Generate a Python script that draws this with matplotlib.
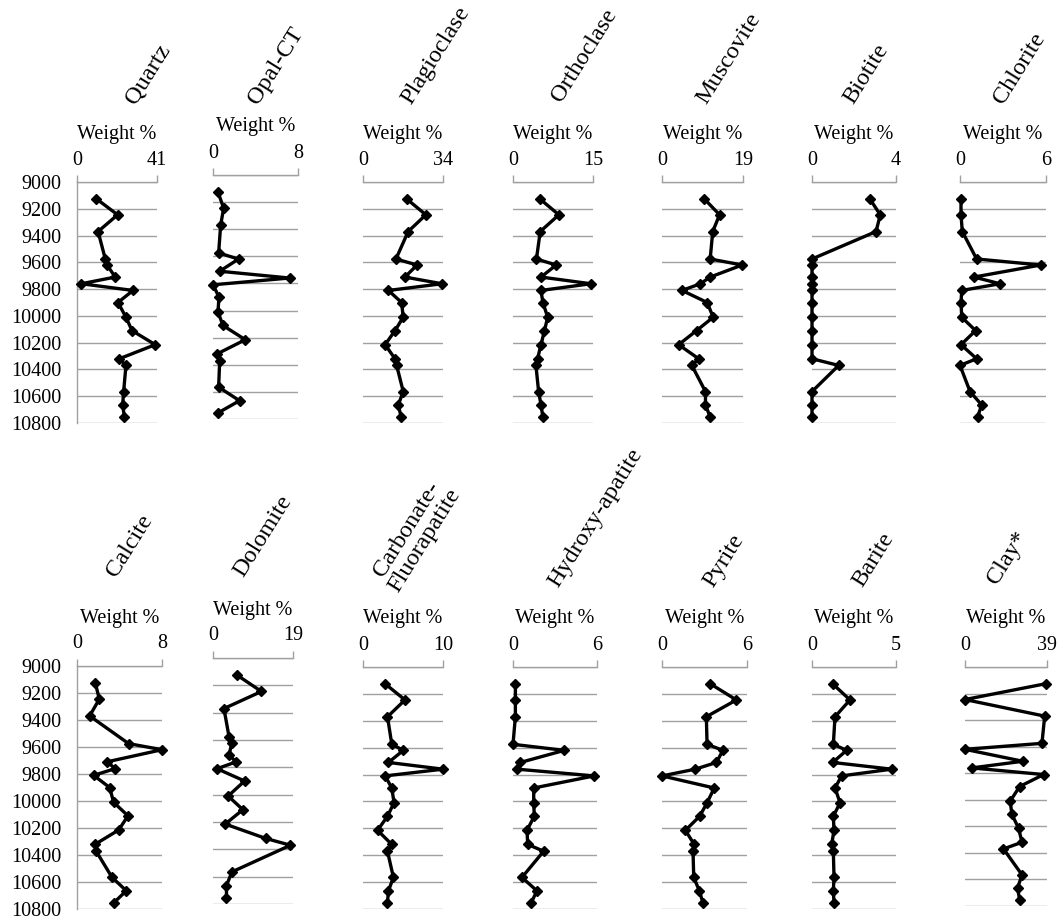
import matplotlib
matplotlib.use('Agg')
import matplotlib.pyplot as plt

plt.rcParams['font.family'] = ['Liberation Serif', 'DejaVu Serif']

# ─── data ────────────────────────────────────────────────────
DEPTH = [9125, 9245, 9370, 9575, 9620, 9710, 9760, 9810, 9900,
         10010, 10110, 10215, 10320, 10370, 10565, 10665, 10755]
DEPTH_TICKS = list(range(9000, 10801, 200))

NAMES = ['Quartz', 'Opal-CT', 'Plagioclase', 'Orthoclase', 'Muscovite', 'Biotite', 'Chlorite',
         'Calcite', 'Dolomite', 'Carbonate-\nFluorapatite', 'Hydroxy-apatite', 'Pyrite', 'Barite', 'Clay*']
XMAX = [41, 8, 34, 15, 19, 4, 6,
        8, 19, 10, 6, 6, 5, 39]

quartz = [9.9, 20.8, 10.8, 14.5, 15.4, 19.6, 2.2, 28.7, 21.0, 25.1, 28.2, 40.1, 21.7, 25.1, 23.9, 23.4, 24.3]
opal_ct = [0.47, 1.0, 0.72, 0.53, 2.4, 0.63, 7.2, 0.0, 0.56, 0.47, 0.94, 3.04, 0.38, 0.63, 0.53, 2.5, 0.47]
plagioclase = [18.5, 26.7, 19.2, 14.0, 23.0, 17.8, 33.6, 10.8, 16.4, 17.1, 13.6, 9.4, 13.6, 14.3, 17.1, 15.0, 16.2]
orthoclase = [5.0, 8.6, 5.1, 4.4, 8.1, 5.25, 14.6, 5.25, 5.6, 6.5, 5.9, 5.25, 4.6, 4.3, 4.8, 5.25, 5.6]
muscovite = [9.9, 13.5, 11.9, 11.3, 18.8, 11.3, 9.0, 4.7, 10.6, 12.0, 8.1, 3.9, 8.6, 7.0, 10.2, 10.2, 11.3]
biotite = [2.75, 3.25, 3.05, 0.0, 0.0, 0.0, 0.0, 0.0, 0.0, 0.0, 0.0, 0.0, 0.0, 1.27, 0.0, 0.0, 0.0]
chlorite = [0.07, 0.07, 0.16, 1.16, 5.63, 0.98, 2.79, 0.12, 0.07, 0.12, 1.09, 0.07, 1.16, 0.0, 0.7, 1.51, 1.23]
calcite = [1.72, 2.1, 1.19, 4.86, 8.0, 2.82, 3.6, 1.57, 3.07, 3.45, 4.8, 3.92, 1.72, 1.79, 3.29, 4.64, 3.45]
dolomite = [5.7, 11.5, 2.6, 3.8, 4.5, 3.8, 5.5, 0.95, 7.5, 3.6, 7.1, 2.9, 12.5, 18.4, 4.5, 3.2, 3.2]
carb_fluorapatite = [2.77, 5.25, 3.06, 3.6, 5.04, 3.18, 10.0, 2.77, 3.6, 3.88, 3.06, 1.82, 3.6, 3.06, 3.8, 3.18, 3.06]
hydroxyapatite = [0.17, 0.17, 0.17, 0.0, 3.67, 0.52, 0.29, 5.8, 1.48, 1.48, 1.52, 1.0, 1.05, 2.19, 0.64, 1.71, 1.29]
pyrite = [3.41, 5.25, 3.13, 3.18, 4.3, 3.84, 2.35, 0.0, 3.69, 3.18, 2.66, 1.65, 2.28, 2.19, 2.24, 2.64, 2.89]
barite = [1.23, 2.26, 1.37, 1.27, 2.06, 1.23, 4.74, 1.76, 1.37, 1.67, 1.27, 1.31, 1.17, 1.27, 1.31, 1.27, 1.31]
clay = [38.7, 0.0, 37.9, 36.6, 0.0, 27.5, 3.2, 37.4, 26.0, 21.5, 22.3, 25.5, 27.1, 18.3, 27.1, 25.0, 26.0]

SERIES = [quartz, opal_ct, plagioclase, orthoclase, muscovite, biotite, chlorite,
          calcite, dolomite, carb_fluorapatite, hydroxyapatite, pyrite, barite, clay]

# ─── layout (pixels): x0, x1, y_top, y_bottom ────────────────
W, H = 1062, 919
BOXES = [(77, 157, 182, 423), (213, 298, 175, 419), (363, 443, 182, 423), (513, 593, 182, 423),
         (662, 743, 182, 423), (812, 896, 182, 423), (960, 1046, 182, 423),
         (77, 162, 666, 909), (213, 293, 658, 904), (363, 443, 667, 909), (513, 597, 667, 909),
         (662, 747, 667, 909), (812, 896, 667, 909), (965, 1047, 667, 906)]
# rotated name anchor (start of baseline, pixels)
NAME_POS = [(135, 105), (258, 105), (411, 105), (561, 103), (706, 105), (853, 105), (1003, 105),
            (116, 578), (243, 578), (402, 596), (558, 588), (713, 588), (862, 588), (997, 585)]
WITH_DEPTH_LABELS = {0, 7}

GRID = '#a0a0a0'
ROT = 58


def fx(px):
    return px / W


def fy(py):
    return 1 - py / H


fig = plt.figure(figsize=(W / 100, H / 100), dpi=100, facecolor='white')

for i, (name, xmax, vals, box, npos) in enumerate(zip(NAMES, XMAX, SERIES, BOXES, NAME_POS)):
    x0, x1, yt, yb = box
    ax = fig.add_axes([fx(x0), fy(yb), (x1 - x0) / W, (yb - yt) / H])
    ax.set_xlim(0, xmax)
    ax.set_ylim(10800, 9000)

    ax.plot(vals, DEPTH, color='black', lw=2.4, marker='D', ms=5.4,
            clip_on=False, zorder=5)

    # horizontal grid every 200 ft
    ax.set_yticks(DEPTH_TICKS)
    ax.yaxis.grid(True, color=GRID, lw=1.0)
    ax.set_axisbelow(True)

    for s in ('right', 'bottom', 'left'):
        ax.spines[s].set_visible(False)
    ax.spines['top'].set_color(GRID)
    ax.spines['top'].set_linewidth(1.0)

    if i in WITH_DEPTH_LABELS:
        ax.spines['left'].set_visible(True)
        ax.spines['left'].set_color(GRID)
        ax.spines['left'].set_linewidth(1.0)
        ax.tick_params(axis='y', length=0, labelsize=14.5, pad=11)
    else:
        ax.tick_params(axis='y', length=0, labelleft=False)

    ax.xaxis.tick_top()
    ax.set_xticks([0, xmax])
    ax.set_xticklabels(['0', str(xmax)])
    ax.tick_params(axis='x', direction='out', length=5, color=GRID, width=1.0,
                   labelsize=14.5, pad=4)

    fig.text(fx((x0 + x1) / 2), fy(yt - 48), 'Weight %', ha='center', va='center', fontsize=14.5)

    va = 'bottom' if '\n' in name else 'baseline'
    fig.text(fx(npos[0]), fy(npos[1]), name, rotation=ROT, rotation_mode='anchor',
             ha='left', va=va, fontsize=17.5, multialignment='center', linespacing=1.0)

fig.savefig('out.png', dpi=100, facecolor='white')
